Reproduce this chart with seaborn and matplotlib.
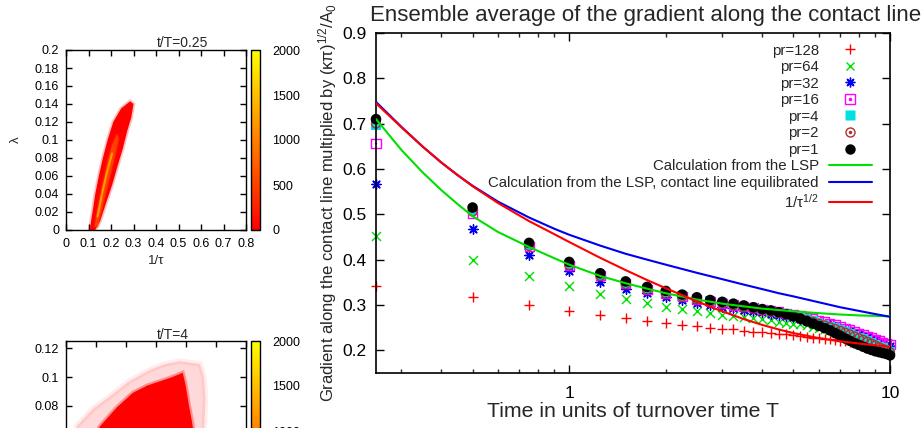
import matplotlib
matplotlib.use("Agg")
import matplotlib.pyplot as plt
import seaborn as sns
from matplotlib.colors import LinearSegmentedColormap, Normalize
from matplotlib.cm import ScalarMappable
from matplotlib.lines import Line2D
from matplotlib.legend_handler import HandlerTuple
from matplotlib.ticker import FixedLocator, NullFormatter

# ---- main panel: ensemble averages at each output time ----
times = [0.25, 0.5, 0.75, 1.0, 1.25, 1.5, 1.75, 2.0, 2.25, 2.5,
         2.75, 3.0, 3.25, 3.5, 3.75, 4.0, 4.25, 4.5, 4.75, 5.0,
         5.25, 5.5, 5.75, 6.0, 6.25, 6.5, 6.75, 7.0, 7.25, 7.5,
         7.75, 8.0, 8.25, 8.5, 8.75, 9.0, 9.25, 9.5, 9.75, 10.0]

pr128 = [0.342, 0.318, 0.300, 0.287, 0.277, 0.271, 0.264, 0.260, 0.255, 0.253,
         0.250, 0.248, 0.246, 0.243, 0.241, 0.240, 0.238, 0.236, 0.235, 0.233,
         0.231, 0.230, 0.228, 0.227, 0.225, 0.224, 0.222, 0.221, 0.220, 0.218,
         0.217, 0.216, 0.215, 0.214, 0.213, 0.212, 0.211, 0.210, 0.209, 0.208]
pr64 = [0.453, 0.400, 0.365, 0.342, 0.325, 0.314, 0.304, 0.296, 0.292, 0.287,
        0.283, 0.279, 0.276, 0.274, 0.271, 0.269, 0.266, 0.263, 0.261, 0.259,
        0.257, 0.255, 0.252, 0.250, 0.247, 0.244, 0.241, 0.238, 0.235, 0.232,
        0.229, 0.226, 0.223, 0.220, 0.217, 0.214, 0.211, 0.208, 0.205, 0.203]
pr32 = [0.566, 0.468, 0.411, 0.376, 0.351, 0.335, 0.326, 0.317, 0.310, 0.305,
        0.300, 0.296, 0.293, 0.290, 0.287, 0.284, 0.281, 0.279, 0.276, 0.273,
        0.270, 0.267, 0.264, 0.261, 0.258, 0.255, 0.252, 0.248, 0.245, 0.242,
        0.239, 0.235, 0.232, 0.229, 0.226, 0.222, 0.219, 0.216, 0.212, 0.209]
pr16 = [0.656, 0.501, 0.428, 0.388, 0.364, 0.347, 0.335, 0.326, 0.319, 0.313,
        0.308, 0.304, 0.300, 0.297, 0.294, 0.291, 0.288, 0.285, 0.282, 0.279,
        0.276, 0.273, 0.270, 0.266, 0.263, 0.259, 0.256, 0.252, 0.249, 0.245,
        0.242, 0.238, 0.235, 0.231, 0.228, 0.224, 0.221, 0.218, 0.215, 0.212]
pr4 = [0.697, 0.508, 0.432, 0.390, 0.366, 0.348, 0.336, 0.327, 0.320, 0.314,
       0.309, 0.305, 0.301, 0.297, 0.294, 0.290, 0.287, 0.284, 0.281, 0.277,
       0.273, 0.269, 0.265, 0.261, 0.257, 0.253, 0.249, 0.245, 0.241, 0.237,
       0.233, 0.229, 0.225, 0.221, 0.217, 0.213, 0.209, 0.205, 0.201, 0.198]
pr2 = [0.700, 0.506, 0.430, 0.388, 0.364, 0.346, 0.334, 0.325, 0.318, 0.312,
       0.307, 0.303, 0.299, 0.295, 0.292, 0.288, 0.285, 0.282, 0.279, 0.275,
       0.271, 0.267, 0.263, 0.259, 0.255, 0.251, 0.247, 0.243, 0.239, 0.235,
       0.231, 0.227, 0.223, 0.219, 0.215, 0.211, 0.207, 0.203, 0.199, 0.196]
pr1 = [0.710, 0.515, 0.437, 0.395, 0.370, 0.352, 0.340, 0.331, 0.323, 0.317,
       0.311, 0.307, 0.303, 0.299, 0.295, 0.291, 0.288, 0.284, 0.280, 0.275,
       0.270, 0.264, 0.259, 0.254, 0.249, 0.244, 0.238, 0.232, 0.226, 0.221,
       0.216, 0.212, 0.208, 0.204, 0.201, 0.198, 0.196, 0.194, 0.192, 0.189]

# curves (sampled off the figure)
curve_t = [0.25, 0.3, 0.35, 0.4, 0.45, 0.5, 0.6, 0.75, 0.9, 1.0, 1.25, 1.5, 1.75,
           2.0, 2.5, 3.0, 3.5, 4.0, 4.5, 5.0, 6.0, 7.0, 8.0, 9.0, 10.0]
lsp = [0.710, 0.642, 0.592, 0.553, 0.522, 0.496, 0.461, 0.428, 0.403, 0.389, 0.364, 0.348, 0.336,
       0.326, 0.312, 0.303, 0.297, 0.292, 0.289, 0.286, 0.282, 0.279, 0.277, 0.276, 0.275]
lsp_equil = [0.748, 0.693, 0.649, 0.614, 0.586, 0.563, 0.528, 0.493, 0.468, 0.455, 0.431, 0.413, 0.400,
             0.389, 0.371, 0.357, 0.345, 0.335, 0.326, 0.319, 0.306, 0.295, 0.287, 0.280, 0.274]
inv_sqrt_tau = [0.745, 0.692, 0.649, 0.614, 0.586, 0.562, 0.525, 0.485, 0.456, 0.439, 0.404, 0.377, 0.355,
                0.337, 0.308, 0.286, 0.269, 0.256, 0.246, 0.238, 0.227, 0.220, 0.215, 0.211, 0.208]

# ---- left panels: outlines of the density regions ----
early_x = [0.105, 0.118, 0.130, 0.146, 0.164, 0.185, 0.210, 0.245, 0.285, 0.300,
           0.290, 0.272, 0.252, 0.228, 0.205, 0.178, 0.152, 0.130]
early_y = [0.0, 0.02, 0.04, 0.06, 0.08, 0.10, 0.12, 0.135, 0.143, 0.140,
           0.125, 0.110, 0.090, 0.070, 0.050, 0.030, 0.010, 0.0]
early_core_x = [0.128, 0.142, 0.162, 0.184, 0.206, 0.226, 0.234, 0.224, 0.203, 0.180, 0.158, 0.140]
early_core_y = [0.004, 0.025, 0.050, 0.075, 0.095, 0.106, 0.102, 0.090, 0.068, 0.045, 0.022, 0.004]
early_peak_x = [0.140, 0.160, 0.183, 0.205]
early_peak_y = [0.015, 0.040, 0.065, 0.085]

late_x = [0.02, 0.05, 0.113, 0.17, 0.223, 0.27, 0.313, 0.355, 0.389, 0.398, 0.41, 0.419, 0.43, 0.44]
late_y = [0.0, 0.040, 0.0657, 0.079, 0.089, 0.094, 0.097, 0.100, 0.1029, 0.095, 0.080, 0.070, 0.055, 0.0]
late_halo_x = [0.0, 0.036, 0.09, 0.147, 0.21, 0.28, 0.33, 0.38, 0.447, 0.46, 0.465, 0.46, 0.45]
late_halo_y = [0.03, 0.066, 0.078, 0.0867, 0.097, 0.105, 0.109, 0.111, 0.109, 0.10, 0.085, 0.06, 0.0]

sns.set_theme(style="ticks")
plt.rcParams["font.family"] = ["Liberation Sans", "DejaVu Sans"]
plt.rcParams["mathtext.fontset"] = "custom"
plt.rcParams["mathtext.rm"] = "Liberation Sans"
plt.rcParams["mathtext.it"] = "Liberation Sans:italic"

W, H = 924, 428
fig = plt.figure(figsize=(W / 100, H / 100), dpi=100)
fig.patch.set_facecolor("white")

RED, GREEN, BLUE = "#ff0000", "#00e000", "#0000f0"
MAG, CYAN, BROWN = "#ff00ff", "#00e0e0", "#b03030"

# ================= main panel =================
ax = fig.add_axes([376 / W, 1 - 373 / H, 514 / W, 340 / H])
ax.set_facecolor("white")

sns.scatterplot(x=times, y=pr128, marker="+", color=RED, s=50, linewidth=1.0,
                ax=ax, legend=False, clip_on=False, zorder=2)
sns.scatterplot(x=times, y=pr64, marker="x", color=GREEN, s=42, linewidth=1.0,
                ax=ax, legend=False, clip_on=False, zorder=2)
sns.scatterplot(x=times, y=pr32, marker=(8, 2, 0), color=BLUE, s=45, linewidth=1.0,
                ax=ax, legend=False, clip_on=False, zorder=2)
sns.scatterplot(x=times, y=pr16, marker="s", color=MAG, facecolor="none", edgecolor=MAG,
                s=42, linewidth=1.0, ax=ax, legend=False, clip_on=False, zorder=2)
sns.scatterplot(x=times, y=pr16, marker="o", color=MAG, edgecolor="none", s=3,
                ax=ax, legend=False, clip_on=False, zorder=2)
sns.scatterplot(x=times, y=pr4, marker="s", color=CYAN, edgecolor="none", s=45,
                ax=ax, legend=False, clip_on=False, zorder=2)
sns.scatterplot(x=times, y=pr2, marker="o", color=BROWN, facecolor="none", edgecolor=BROWN,
                s=40, linewidth=1.0, ax=ax, legend=False, clip_on=False, zorder=2)
sns.scatterplot(x=times, y=pr2, marker="o", color=BROWN, edgecolor="none", s=3,
                ax=ax, legend=False, clip_on=False, zorder=2)
sns.scatterplot(x=times, y=pr1, marker="o", color="black", edgecolor="none", s=58,
                ax=ax, legend=False, clip_on=False, zorder=2)

sns.lineplot(x=curve_t, y=lsp, color=GREEN, lw=1.5, ax=ax, zorder=3)
sns.lineplot(x=curve_t, y=lsp_equil, color=BLUE, lw=1.5, ax=ax, zorder=3)
sns.lineplot(x=curve_t, y=inv_sqrt_tau, color=RED, lw=1.5, ax=ax, zorder=3)

ax.set_xscale("log")
ax.set_xlim(0.25, 10)
ax.set_ylim(0.15, 0.9)
ax.xaxis.set_major_locator(FixedLocator([1, 10]))
ax.set_xticklabels(["1", "10"])
ax.xaxis.set_minor_locator(FixedLocator([0.3, 0.4, 0.5, 0.6, 0.7, 0.8, 0.9,
                                         2, 3, 4, 5, 6, 7, 8, 9]))
ax.xaxis.set_minor_formatter(NullFormatter())
ax.set_yticks([0.2, 0.3, 0.4, 0.5, 0.6, 0.7, 0.8, 0.9])
ax.set_yticklabels(["0.2", "0.3", "0.4", "0.5", "0.6", "0.7", "0.8", "0.9"])
ax.tick_params(which="major", direction="in", top=True, right=True, length=6,
               width=1, labelsize=12.5, colors="black")
ax.tick_params(axis="x", which="major", pad=9)
ax.tick_params(axis="y", which="major", pad=7)
ax.tick_params(which="minor", direction="in", top=True, right=True, length=3, width=1)
for sp in ax.spines.values():
    sp.set_color("black")
    sp.set_linewidth(1.2)

ax.set_xlabel("Time in units of turnover time T", fontsize=15.3, labelpad=1)
ax.set_ylabel(r"Gradient along the contact line multiplied by (κπ)$^{1/2}$/A$_0$",
              fontsize=12, labelpad=2)
fig.text(646 / W, 1 - 16 / H, "Ensemble average of the gradient along the contact line",
         ha="center", va="center", fontsize=16)

handles = [
    Line2D([], [], ls="none", marker="+", color=RED, ms=7, mew=1),
    Line2D([], [], ls="none", marker="x", color=GREEN, ms=6, mew=1),
    Line2D([], [], ls="none", marker=(8, 2, 0), color=BLUE, ms=7, mew=1),
    (Line2D([], [], ls="none", marker="s", mfc="none", mec=MAG, ms=6.5, mew=1),
     Line2D([], [], ls="none", marker="o", color=MAG, ms=1.5)),
    Line2D([], [], ls="none", marker="s", color=CYAN, mec="none", ms=7),
    (Line2D([], [], ls="none", marker="o", mfc="none", mec=BROWN, ms=6.5, mew=1),
     Line2D([], [], ls="none", marker="o", color=BROWN, ms=1.5)),
    Line2D([], [], ls="none", marker="o", color="black", mec="none", ms=7.5),
    Line2D([], [], color=GREEN, lw=1.5),
    Line2D([], [], color=BLUE, lw=1.5),
    Line2D([], [], color=RED, lw=1.5),
]
labels = ["pr=128", "pr=64", "pr=32", "pr=16", "pr=4", "pr=2", "pr=1",
          "Calculation from the LSP",
          "Calculation from the LSP, contact line equilibrated",
          r"1/τ$^{1/2}$"]
ax.legend(handles, labels, loc="upper right", bbox_to_anchor=(1 - 8 / 514, 1),
          markerfirst=False, frameon=False,
          fontsize=10.8, handlelength=2.85, handletextpad=0.67, labelspacing=0.17,
          borderaxespad=0.3, numpoints=1,
          handler_map={tuple: HandlerTuple(ndivide=1, pad=0)})

# ================= left density panels =================
cmap = LinearSegmentedColormap.from_list("ry", ["#ff0000", "#ff8000", "#ffff00"])
norm = Normalize(0, 2000)


def style_small(a, xmax, ymax, yticks, ylabels):
    a.set_facecolor("white")
    a.set_xlim(0, xmax)
    a.set_ylim(0, ymax)
    a.set_yticks(yticks)
    a.set_yticklabels(ylabels)
    a.tick_params(direction="in", top=True, right=True, length=4, width=1,
                  labelsize=9, colors="black")
    a.tick_params(axis="x", pad=6)
    a.tick_params(axis="y", pad=5)
    for sp in a.spines.values():
        sp.set_color("black")
        sp.set_linewidth(1.0)


def add_cbar(c):
    cb = fig.colorbar(ScalarMappable(norm=norm, cmap=cmap), cax=c,
                      ticks=[0, 500, 1000, 1500, 2000])
    cb.outline.set_linewidth(1.0)
    cb.outline.set_edgecolor("black")
    c.tick_params(direction="in", length=6.5, width=0.8, labelsize=9, pad=9,
                  colors="black")
    c.set_yticklabels(["0", "500", "1000", "1500", "2000"])


ax_a = fig.add_axes([66 / W, 1 - 230 / H, 180 / W, 180 / H])
cax_a = fig.add_axes([251 / W, 1 - 230 / H, 9 / W, 180 / H])
ax_a.fill(early_x, early_y, facecolor=RED, edgecolor=(1, 0, 0, 0.25), lw=2.5, zorder=2)
ax_a.fill(early_core_x, early_core_y, facecolor="#ff4000", edgecolor=(1, 0.25, 0, 0.4),
          lw=1.5, zorder=3)
ax_a.plot(early_peak_x, early_peak_y, color="#ffb000", lw=1.5, alpha=0.8, zorder=4)
style_small(ax_a, 0.8, 0.2,
            [0, 0.02, 0.04, 0.06, 0.08, 0.1, 0.12, 0.14, 0.16, 0.18, 0.2],
            ["0", "0.02", "0.04", "0.06", "0.08", "0.1", "0.12", "0.14", "0.16", "0.18", "0.2"])
ax_a.set_xticks([0, 0.1, 0.2, 0.3, 0.4, 0.5, 0.6, 0.7, 0.8])
ax_a.set_xticklabels(["0", "0.1", "0.2", "0.3", "0.4", "0.5", "0.6", "0.7", "0.8"])
ax_a.set_xlabel("1/τ", fontsize=9.5, labelpad=3)
ax_a.set_ylabel("λ", fontsize=9.5, labelpad=9)
fig.text(157 / W, 1 - 43 / H, "t/T=0.25", ha="left", va="center", fontsize=10)
add_cbar(cax_a)

ax_b = fig.add_axes([66 / W, 1 - 521 / H, 180 / W, 180 / H])
cax_b = fig.add_axes([251 / W, 1 - 521 / H, 9 / W, 180 / H])
ax_b.fill(late_halo_x, late_halo_y, facecolor=(1, 0, 0, 0.15), edgecolor=(1, 0, 0, 0.07),
          lw=4, zorder=2)
ax_b.fill(late_x, late_y, facecolor=RED, edgecolor=(1, 0, 0, 0.35), lw=3, zorder=3)
style_small(ax_b, 0.6, 0.125,
            [0, 0.02, 0.04, 0.06, 0.08, 0.1, 0.12],
            ["", "", "", "", "0.08", "0.1", "0.12"])
ax_b.set_xticks([0, 0.1, 0.2, 0.3, 0.4, 0.5, 0.6])
ax_b.set_xticklabels([])
fig.text(157 / W, 1 - 335 / H, "t/T=4", ha="left", va="center", fontsize=10)
add_cbar(cax_b)

fig.savefig("out.png", dpi=100, facecolor="white")
